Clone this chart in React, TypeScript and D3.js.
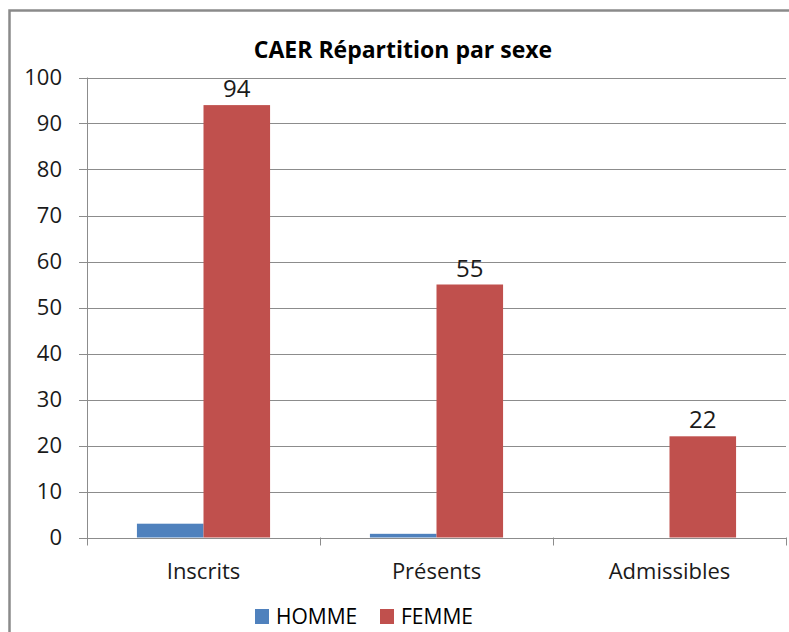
import React, { useEffect, useRef } from "react";
import * as d3 from "d3";

const categories = ["Inscrits", "Présents", "Admissibles"];
const seriesNames = ["HOMME", "FEMME"];
const hommeValues = [3, 0.8, 0];
const femmeValues = [94, 55, 22];
const yTicks = [0, 10, 20, 30, 40, 50, 60, 70, 80, 90, 100];
const title = "CAER Répartition par sexe";

const colors: Record<string, string> = { HOMME: "#4F81BD", FEMME: "#C0504D" };
const font = "'Open Sans', sans-serif";

const App: React.FC = () => {
  const svgRef = useRef<SVGSVGElement | null>(null);

  useEffect(() => {
    const width = 789;
    const height = 632;
    const margin = { top: 77.5, right: 3, bottom: 94.5, left: 87 };

    const svg = d3.select(svgRef.current).attr("width", width).attr("height", height);
    svg.selectAll("*").remove();

    // outer frame (left + top only visible)
    svg
      .append("path")
      .attr("d", `M9.5,${height} L9.5,10.5 L${width},10.5`)
      .attr("fill", "none")
      .attr("stroke", "#8a8a8a")
      .attr("stroke-width", 2.5);

    const x0 = d3
      .scaleBand<string>()
      .domain(categories)
      .range([margin.left, width - margin.right])
      .padding(0);
    const bw = x0.bandwidth();
    const gap = (bw * 1.5) / 3.5;
    const x1 = d3
      .scaleBand<string>()
      .domain(seriesNames)
      .range([gap / 2, bw - gap / 2])
      .padding(0);

    const y = d3
      .scaleLinear()
      .domain([0, 100])
      .range([height - margin.bottom, margin.top]);

    // gridlines
    svg
      .append("g")
      .selectAll("line")
      .data(yTicks)
      .enter()
      .append("line")
      .attr("x1", margin.left - 8)
      .attr("x2", width - margin.right)
      .attr("y1", (d) => Math.round(y(d)) + 0.5)
      .attr("y2", (d) => Math.round(y(d)) + 0.5)
      .attr("stroke", "#8c8c8c")
      .attr("stroke-width", 1);

    // y axis labels
    svg
      .append("g")
      .selectAll("text")
      .data(yTicks)
      .enter()
      .append("text")
      .attr("x", 62)
      .attr("y", (d) => y(d))
      .attr("dy", "0.35em")
      .attr("text-anchor", "end")
      .style("font-family", font)
      .style("font-size", "22px")
      .style("fill", "#1a1a1a")
      .text((d) => d);

    // y axis line
    svg
      .append("line")
      .attr("x1", margin.left + 0.5)
      .attr("x2", margin.left + 0.5)
      .attr("y1", y(100))
      .attr("y2", y(0) + 8)
      .attr("stroke", "#8c8c8c");

    // x ticks
    const tickXs = categories.map((c) => x0(c) as number).concat([width - margin.right]);
    svg
      .append("g")
      .selectAll("line")
      .data(tickXs.slice(1))
      .enter()
      .append("line")
      .attr("x1", (d) => Math.round(d) + 0.5)
      .attr("x2", (d) => Math.round(d) + 0.5)
      .attr("y1", y(0))
      .attr("y2", y(0) + 8)
      .attr("stroke", "#8c8c8c");

    // bars
    const rows = categories.map((c, i) => ({
      cat: c,
      vals: [
        { key: "HOMME", value: hommeValues[i] },
        { key: "FEMME", value: femmeValues[i] },
      ],
    }));

    const groups = svg
      .append("g")
      .selectAll("g")
      .data(rows)
      .enter()
      .append("g")
      .attr("transform", (d) => `translate(${x0(d.cat)},0)`);

    groups
      .selectAll("rect")
      .data((d) => d.vals)
      .enter()
      .append("rect")
      .attr("x", (d) => x1(d.key) as number)
      .attr("y", (d) => y(d.value))
      .attr("width", x1.bandwidth())
      .attr("height", (d) => y(0) - y(d.value))
      .attr("fill", (d) => colors[d.key]);

    // data labels (FEMME only)
    groups
      .append("text")
      .attr("x", x1("FEMME")! + x1.bandwidth() / 2)
      .attr("y", (d) => y(d.vals[1].value) - 8)
      .attr("text-anchor", "middle")
      .style("font-family", font)
      .style("font-size", "24px")
      .style("fill", "#1a1a1a")
      .text((d) => d.vals[1].value);

    // category labels
    svg
      .append("g")
      .selectAll("text")
      .data(categories)
      .enter()
      .append("text")
      .attr("x", (d) => (x0(d) as number) + bw / 2)
      .attr("y", 579)
      .attr("text-anchor", "middle")
      .style("font-family", font)
      .style("font-size", "22px")
      .style("fill", "#1a1a1a")
      .text((d) => d);

    // title
    svg
      .append("text")
      .attr("x", 403)
      .attr("y", 58)
      .attr("text-anchor", "middle")
      .style("font-family", font)
      .style("font-size", "23px")
      .style("font-weight", "bold")
      .style("fill", "#000")
      .text(title);

    // legend
    const legendX = [255, 380];
    const legend = svg
      .append("g")
      .selectAll("g")
      .data(seriesNames)
      .enter()
      .append("g")
      .attr("transform", (d, i) => `translate(${legendX[i]},609)`);
    legend
      .append("rect")
      .attr("width", 14)
      .attr("height", 15)
      .attr("fill", (d) => colors[d]);
    legend
      .append("text")
      .attr("x", 21)
      .attr("y", 15)
      .style("font-family", font)
      .style("font-size", "21px")
      .style("fill", "#000")
      .text((d) => d);
  }, []);

  return (
    <svg
      ref={svgRef}
      style={{ position: "absolute", left: 0, top: 0, background: "#fff" }}
    ></svg>
  );
};

export default App;
